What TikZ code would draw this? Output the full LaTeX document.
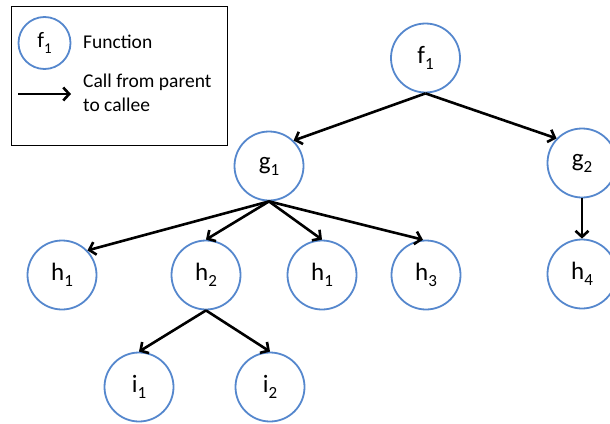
\documentclass[tikz,border=0pt]{standalone}
\usepackage{fontspec}
\setmainfont{Carlito}
\usetikzlibrary{arrows.meta}
\definecolor{nodeblue}{RGB}{85,135,205}
\newcommand\lowsub[1]{\raisebox{-0.24em}{\scalebox{0.68}{#1}}}
\tikzset{
  fn/.style={circle, draw=nodeblue, line width=1.8pt, minimum size=69pt, inner sep=0pt,
    font=\fontsize{25}{28}\selectfont},
  legfn/.style={fn, minimum size=52pt, font=\fontsize{22}{25}\selectfont},
  call/.style={line width=2.6pt, -{Straight Barb[length=6pt,width=13pt,line width=2.6pt]}},
  legtext/.style={anchor=base west, inner sep=0pt, font=\fontsize{19.5}{23}\selectfont},
}
\begin{document}
\begin{tikzpicture}[x=1pt,y=-1pt]
\useasboundingbox (0,0) rectangle (610,423);
% legend
\node[draw, line width=1.4pt, minimum width=216pt, minimum height=139pt, anchor=north west, inner sep=0pt] (legend) at (10.6,5.6) {};
\node[legfn] (lf) at (44.5,43) {f\lowsub{1}};
\node[legtext] (lfun) at (83,48) {Function};
\coordinate (la) at (18,94);
\coordinate (lb) at (71,94);
\draw[call] (la) -- (lb);
\node[legtext] (lcall1) at (83,87) {Call from parent};
\node[legtext] (lcall2) at (83,111) {to callee};
% tree nodes
\node[fn] (f1) at (425.5,58) {f\lowsub{1}};
\node[fn] (g1) at (269,166) {g\lowsub{1}};
\node[fn] (g2) at (582,163) {g\lowsub{2}};
\node[fn] (h1a) at (62,275) {h\lowsub{1}};
\node[fn] (h2) at (206,275) {h\lowsub{2}};
\node[fn] (h1b) at (322,275) {h\lowsub{1}};
\node[fn] (h3) at (426,275) {h\lowsub{3}};
\node[fn] (h4) at (582,274) {h\lowsub{4}};
\node[fn] (i1) at (139,387) {i\lowsub{1}};
\node[fn] (i2) at (270,387) {i\lowsub{2}};
% calls
\draw[call] (f1.south) -- (g1.46);
\draw[call] (f1.south) -- (g2.136);
\draw[call] (g1.south) -- (h1a.44);
\draw[call] (g1.south) -- (h2.north);
\draw[call] (g1.south) -- (h1b.north);
\draw[call] (g1.south) -- (h3.95);
\draw[call] (g2.south) -- (h4.north);
\draw[call] (h2.south) -- (i1.north);
\draw[call] (h2.south) -- (i2.north);
\end{tikzpicture}
\end{document}
